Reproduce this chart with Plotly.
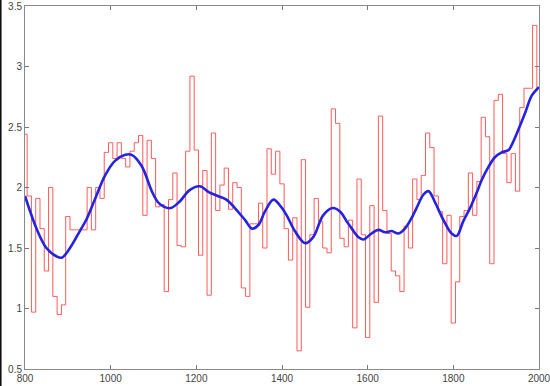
import plotly.graph_objects as go

years = list(range(800, 2001, 10))
red_values = [
    2.44, 1.93, 0.97, 1.91, 1.66, 1.31, 2.00, 1.10, 0.95, 1.03,   # 800-890
    1.76, 1.65, 1.65, 1.65, 1.65, 2.00, 1.65, 2.00, 1.91, 2.29,   # 900-990
    2.37, 2.24, 2.37, 2.24, 2.17, 2.30, 2.37, 2.43, 1.77, 2.39,   # 1000-1090
    2.24, 1.84, 1.86, 1.14, 1.90, 2.12, 1.52, 1.51, 2.30, 2.92,   # 1100-1190
    2.31, 1.44, 2.14, 1.11, 2.45, 1.81, 2.02, 2.16, 1.82, 2.04,   # 1200-1290
    2.00, 1.17, 1.10, 1.70, 1.70, 1.87, 1.50, 2.32, 2.11, 2.30,   # 1300-1390
    2.03, 1.66, 1.40, 1.75, 0.65, 2.23, 1.01, 1.61, 1.91, 1.72,   # 1400-1490
    1.50, 1.46, 2.65, 2.53, 1.58, 1.51, 1.73, 0.84, 2.07, 1.61,   # 1500-1590
    0.76, 1.85, 1.05, 2.59, 1.81, 1.62, 1.31, 1.27, 1.14, 1.68,   # 1600-1690
    1.50, 2.07, 1.90, 2.10, 2.45, 2.33, 1.93, 1.80, 1.37, 1.77,   # 1700-1790
    0.88, 1.22, 1.76, 1.81, 2.12, 1.77, 2.05, 2.58, 2.42, 1.37,   # 1800-1890
    2.72, 2.77, 2.28, 2.04, 2.28, 1.97, 2.66, 2.82, 2.82, 3.34,   # 1900-1990
    2.82,                                                         # 2000
]

smooth_years = [800, 827, 850, 874, 886, 905, 928, 944, 963, 987, 1010, 1034, 1049,
                1072, 1096, 1110, 1125, 1140, 1160, 1185, 1208, 1230, 1250, 1270,
                1290, 1314, 1330, 1345, 1360, 1380, 1398, 1411, 1430, 1454, 1473,
                1496, 1518, 1536, 1551, 1563, 1578, 1590, 1609, 1625, 1641, 1656,
                1672, 1687, 1703, 1714, 1730, 1742, 1757, 1777, 1796, 1808, 1823,
                1839, 1855, 1866, 1882, 1897, 1913, 1929, 1936, 1952, 1968, 1983, 2000]
smooth_values = [1.93, 1.66, 1.50, 1.43, 1.42, 1.50, 1.64, 1.74, 1.90, 2.10, 2.22, 2.27, 2.27,
                 2.18, 1.97, 1.88, 1.84, 1.83, 1.88, 1.98, 2.01, 1.96, 1.93, 1.90,
                 1.83, 1.73, 1.66, 1.69, 1.80, 1.90, 1.84, 1.77, 1.64, 1.54, 1.59,
                 1.77, 1.83, 1.80, 1.72, 1.66, 1.59, 1.57, 1.62, 1.65, 1.63, 1.64,
                 1.62, 1.66, 1.75, 1.83, 1.94, 1.97, 1.88, 1.73, 1.62, 1.60, 1.72,
                 1.83, 1.96, 2.06, 2.17, 2.25, 2.29, 2.31, 2.35, 2.48, 2.62, 2.76, 2.83]

x_ticks = [800, 1000, 1200, 1400, 1600, 1800, 2000]
y_ticks = [0.5, 1, 1.5, 2, 2.5, 3, 3.5]

fig = go.Figure()
fig.add_trace(go.Scatter(x=years, y=red_values, mode="lines", line_shape="hvh",
                         line=dict(color="#ff5a5a", width=1), hoverinfo="skip"))
fig.add_trace(go.Scatter(x=smooth_years, y=smooth_values, mode="lines", line_shape="spline",
                         line=dict(color="#2323e0", width=2.6), hoverinfo="skip"))

axis_common = dict(showgrid=False, zeroline=False, showline=True, mirror="ticks",
                   linecolor="#8a8a8a", linewidth=1, ticks="inside", ticklen=4,
                   tickcolor="#777", ticklabeloverflow="allow",
                   tickfont=dict(family="Liberation Sans, Arial, sans-serif",
                                 size=10, color="#444"))
fig.update_xaxes(range=[800, 2000], tickvals=x_ticks, ticktext=[str(v) for v in x_ticks],
                 automargin=False, **axis_common)
fig.update_yaxes(range=[0.5, 3.5], tickvals=y_ticks, ticktext=[f"{v:g}" for v in y_ticks],
                 automargin=False, **axis_common)

fig.add_shape(type="line", xref="paper", yref="paper", x0=-0.0475, x1=-0.0475,
              y0=-0.05, y1=1.02, line=dict(color="#111", width=2))

fig.update_layout(width=550, height=386, showlegend=False,
                  margin=dict(l=25, r=11, t=6, b=17, autoexpand=False),
                  paper_bgcolor="white", plot_bgcolor="white")

fig.write_html("out.html", config={"displayModeBar": False},
               post_script="document.body.style.margin='0';document.body.style.overflow='hidden';")
